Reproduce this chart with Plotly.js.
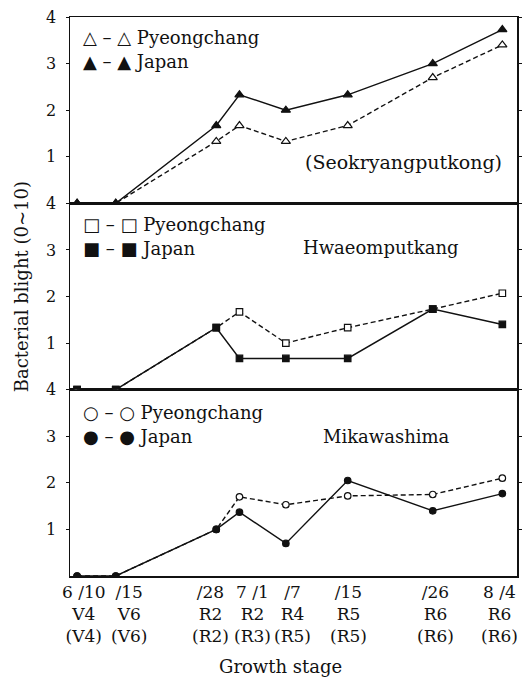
<!DOCTYPE html>
<html>
<head>
<meta charset="utf-8">
<script src="https://cdn.plot.ly/plotly-3.0.1.min.js"></script>
<style>html,body{margin:0;padding:0;background:#fff;}#chart{width:523px;height:679px;}</style>
</head>
<body>
<div id="chart"></div>
<script>
// Sampling dates (year arbitrary)
const dates = ['2000-06-10','2000-06-15','2000-06-28','2000-07-01','2000-07-07','2000-07-15','2000-07-26','2000-08-04'];
const dateLabels  = ['6 /10', '/15', '/28', '7 /1', '/7', '/15', '/26', '8 /4'];
const stageLabels = ['V4', 'V6', 'R2', 'R2', 'R4', 'R5', 'R6', 'R6'];
const stageLabels2 = ['(V4)', '(V6)', '(R2)', '(R3)', '(R5)', '(R5)', '(R6)', '(R6)'];

// Seokryangputkong
const seokPyeong = [0, 0, 1.33, 1.67, 1.33, 1.67, 2.70, 3.40];
const seokJapan  = [0, 0, 1.67, 2.33, 2.00, 2.33, 3.00, 3.73];
// Hwaeomputkang
const hwaPyeong  = [0, 0, 1.33, 1.67, 1.00, 1.33, 1.73, 2.07];
const hwaJapan   = [0, 0, 1.33, 0.67, 0.67, 0.67, 1.73, 1.40];
// Mikawashima
const mikaPyeong = [0, 0, 1.00, 1.70, 1.53, 1.72, 1.75, 2.10];
const mikaJapan  = [0, 0, 1.00, 1.37, 0.70, 2.05, 1.40, 1.77];

const FONT = 'DejaVu Serif, Liberation Serif, serif';
const BLACK = '#111';

function tr(y, xa, ya, sym, filled, dash){
  return {x: dates, y: y, xaxis: xa, yaxis: ya, type: 'scatter', mode: 'lines+markers',
    line: {color: BLACK, width: 1.4, dash: dash},
    marker: {symbol: sym, size: sym === 'triangle-up' ? 8 : 6.5, color: filled ? BLACK : '#fff',
             line: {color: BLACK, width: 1.2}},
    showlegend: false, hoverinfo: 'skip'};
}

const data = [
  tr(seokPyeong, 'x3', 'y3', 'triangle-up', false, '5px,3px'),
  tr(seokJapan,  'x3', 'y3', 'triangle-up', true, 'solid'),
  tr(hwaPyeong,  'x2', 'y2', 'square', false, '5px,3px'),
  tr(hwaJapan,   'x2', 'y2', 'square', true, 'solid'),
  tr(mikaPyeong, 'x',  'y',  'circle', false, '5px,3px'),
  tr(mikaJapan,  'x',  'y',  'circle', true, 'solid')
];

const xRange = ['2000-06-09 02:00', '2000-08-05 21:30'];
function yax(dom){
  return {domain: dom, range: [0, 4], tickvals: [1,2,3,4], ticks: 'outside', ticklen: 3, tickwidth: 1,
    tickcolor: BLACK, showline: true, linecolor: BLACK, linewidth: 1.5, mirror: 'ticks', showgrid: false,
    zeroline: false, ticklabelstandoff: 6, tickfont: {family: FONT, size: 16, color: BLACK}, fixedrange: true};
}
function xax(anchor){
  return {anchor: anchor, type: 'date', range: xRange, showline: true, linecolor: BLACK,
    linewidth: anchor === 'y' ? 2 : 1.5,
    mirror: true, showgrid: false, zeroline: false, ticks: '', showticklabels: false};
}

function ann(text, x, y, anchor, size){
  return {text: text, x: x, y: y, xref: 'paper', yref: 'paper', xanchor: anchor || 'left', yanchor: 'middle',
    showarrow: false, font: {family: FONT, size: size || 18, color: BLACK}};
}
const S = s => '<span style="font-family:DejaVu Sans;font-size:18px">' + s + '</span>';

// tick-label columns under the bottom axis (horizontal nudges as in the original typesetting)
const labelNudge = [7, 13, -6, 13, 7, 1, 3, -3];
const tickAnns = dates.map((d, i) => ({
  text: dateLabels[i] + '<br>' + stageLabels[i] + '<br>' + stageLabels2[i],
  x: d, y: 0, xref: 'x', yref: 'paper', xanchor: 'center', yanchor: 'top',
  xshift: labelNudge[i], yshift: -4, showarrow: false,
  font: {family: FONT, size: 17, color: BLACK}
}));

const layout = {
  width: 523, height: 679,
  margin: {l: 70, r: 6, t: 17, b: 103},
  paper_bgcolor: '#fff', plot_bgcolor: '#fff',
  font: {family: FONT, color: BLACK},
  xaxis: xax('y'),
  xaxis2: Object.assign(xax('y2'), {matches: 'x'}),
  xaxis3: Object.assign(xax('y3'), {matches: 'x'}),
  yaxis: yax([0, 0.3333]),
  yaxis2: yax([0.3333, 0.6667]),
  yaxis3: yax([0.6667, 1]),
  annotations: [
    ann(S('△') + ' – ' + S('△') + ' Pyeongchang', 0.025, 0.964),
    ann(S('▲') + ' – ' + S('▲') + ' Japan', 0.025, 0.921),
    ann('(Seokryangputkong)', 0.745, 0.741, 'center', 19),
    ann(S('□') + ' – ' + S('□') + ' Pyeongchang', 0.025, 0.628),
    ann(S('■') + ' – ' + S('■') + ' Japan', 0.025, 0.585),
    ann('Hwaeomputkang', 0.696, 0.587, 'center'),
    ann(S('○') + ' – ' + S('○') + ' Pyeongchang', 0.025, 0.293),
    ann(S('●') + ' – ' + S('●') + ' Japan', 0.025, 0.250),
    ann('Mikawashima', 0.709, 0.250, 'center'),
    Object.assign(ann('Bacterial blight (0~10)', -0.107, 0.517, 'center', 18), {textangle: -90}),
    ann('Growth stage', 0.47, -0.162, 'center', 18)
  ].concat(tickAnns)
};

Plotly.newPlot('chart', data, layout, {displayModeBar: false, staticPlot: true});
</script>
</body>
</html>
